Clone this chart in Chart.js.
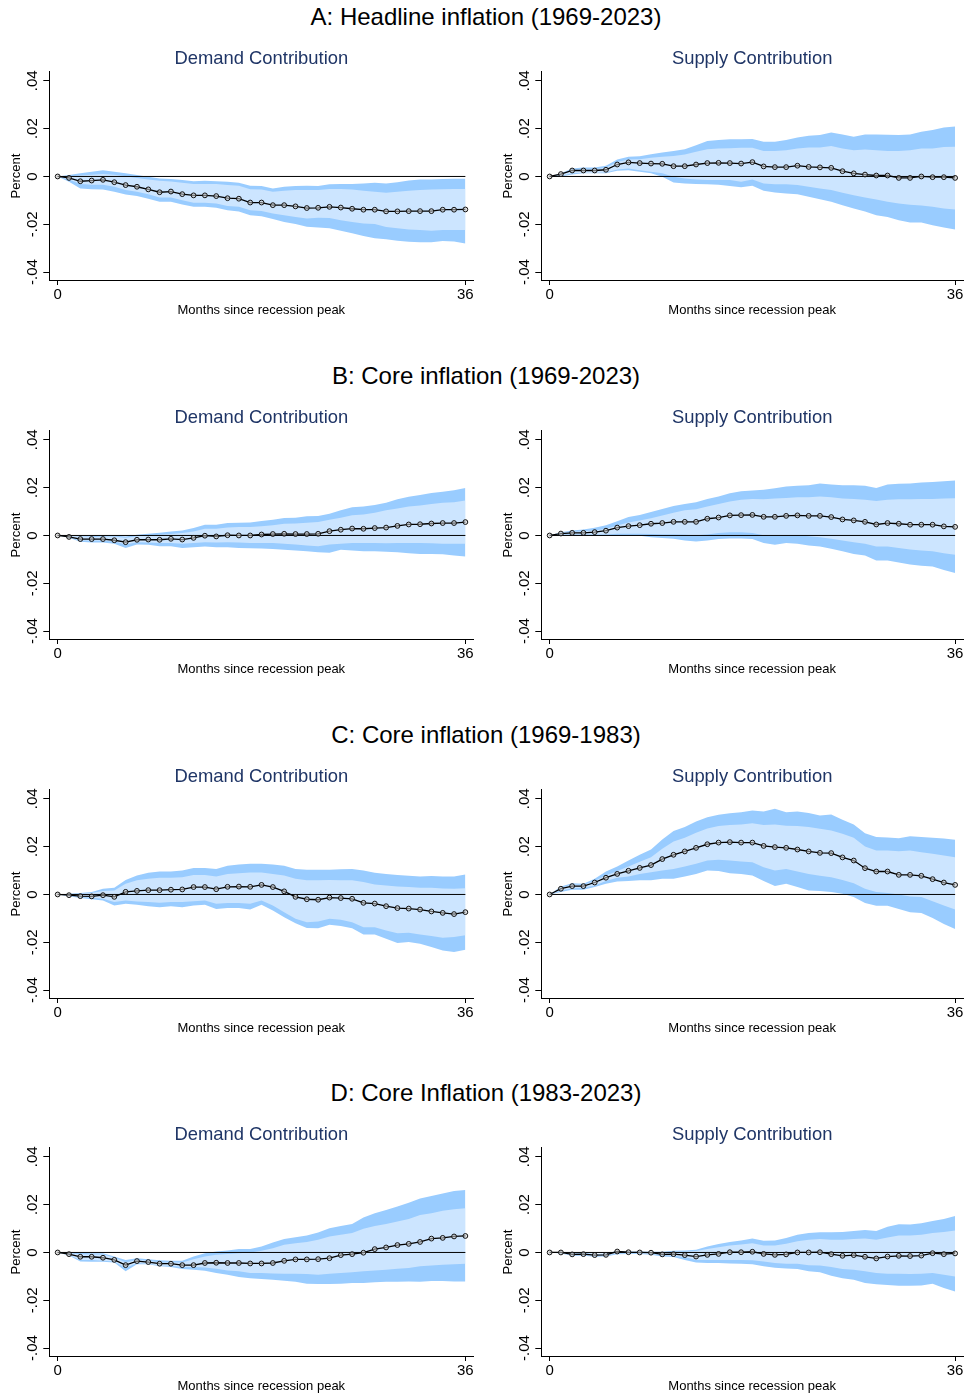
<!DOCTYPE html>
<html>
<head>
<meta charset="utf-8">
<script src="https://cdn.jsdelivr.net/npm/chart.js@4.4.1/dist/chart.umd.min.js"></script>
<style>
  html, body { margin: 0; padding: 0; background: #fff; }
  body { width: 968px; height: 1397px; position: relative; overflow: hidden;
         font-family: "Liberation Sans", Arial, sans-serif; }
  .panel-title { position: absolute; left: 2px; width: 968px; text-align: center;
                 font-size: 24px; line-height: 24px; color: #000; white-space: nowrap; }
  canvas { position: absolute; }
</style>
</head>
<body>
<script>
// Horizon (months since recession peak) and axis ticks
const months = [0,1,2,3,4,5,6,7,8,9,10,11,12,13,14,15,16,17,18,19,20,21,22,23,24,25,26,27,28,29,30,31,32,33,34,35,36];
const xTicks = [0, 36];
const yTicks = [-0.04, -0.02, 0, 0.02, 0.04];
const yTickLabels = ['-.04', '-.02', '0', '.02', '.04'];
const zeroLineX = [0, 36];

const panelTitles = [
  'A: Headline inflation (1969-2023)',
  'B: Core inflation (1969-2023)',
  'C: Core inflation (1969-1983)',
  'D: Core Inflation (1983-2023)'
];
const subTitles = ['Demand Contribution', 'Supply Contribution'];

// A: headline inflation, demand contribution
const headDemandIrf  = [0,-.0006,-.002,-.0017,-.0014,-.0024,-.0036,-.0043,-.0054,-.0066,-.0063,-.0074,-.0079,-.0079,-.0082,-.0091,-.0093,-.0109,-.0109,-.012,-.012,-.0125,-.0132,-.0131,-.0127,-.013,-.0135,-.0139,-.0139,-.0146,-.0146,-.0145,-.0145,-.0145,-.0139,-.0139,-.0138];
const headDemandHi90 = [0,.0006,.0013,.002,.0026,.002,.0013,.0006,-.0001,-.0008,-.0011,-.0015,-.002,-.0018,-.002,-.0022,-.0026,-.0039,-.004,-.005,-.0043,-.004,-.0039,-.004,-.0033,-.0032,-.0031,-.0029,-.0026,-.0029,-.0024,-.0017,-.0013,-.0013,-.0011,-.001,-.001];
const headDemandHi68 = [0,.0001,.0004,.0007,.001,.0007,.0001,-.0006,-.0013,-.0018,-.0021,-.0026,-.0032,-.0032,-.0032,-.0036,-.0039,-.0053,-.0054,-.0064,-.006,-.0057,-.0057,-.0057,-.0052,-.0052,-.0055,-.006,-.0064,-.0068,-.0064,-.006,-.0057,-.0054,-.0053,-.0052,-.0052];
const headDemandLo68 = [0,-.0013,-.0032,-.0035,-.0035,-.0043,-.0057,-.0064,-.0074,-.0088,-.0088,-.0099,-.011,-.011,-.0113,-.0123,-.0127,-.0141,-.0144,-.0155,-.0162,-.0169,-.0176,-.0173,-.0174,-.0183,-.019,-.0197,-.0199,-.0211,-.0217,-.0222,-.0224,-.0227,-.0224,-.0224,-.0224];
const headDemandLo90 = [0,-.0022,-.005,-.0053,-.0054,-.0064,-.0075,-.0082,-.0093,-.0106,-.0106,-.0117,-.0127,-.0127,-.0131,-.0141,-.0146,-.0162,-.0166,-.0178,-.019,-.0199,-.021,-.0213,-.0217,-.0227,-.0238,-.0249,-.0258,-.0263,-.0269,-.0273,-.0275,-.0275,-.027,-.0272,-.028];

// A: headline inflation, supply contribution
const headSupplyIrf  = [0,.001,.0025,.0025,.0025,.0028,.005,.0059,.0056,.0054,.0053,.0043,.0043,.005,.0056,.0057,.0056,.0054,.006,.0042,.0039,.0039,.0045,.004,.0038,.0036,.0022,.0013,.0008,.0004,.0004,-.0006,-.0006,0,-.0003,-.0003,-.0006];
const headSupplyHi90 = [0,.0013,.0033,.0038,.0038,.0045,.0071,.0082,.0085,.0093,.01,.0106,.0114,.0131,.0148,.0152,.0156,.0156,.0157,.0145,.0145,.0152,.0163,.017,.0173,.0184,.0176,.0166,.0176,.0176,.0174,.0173,.0176,.0187,.0194,.0205,.0209];
const headSupplyHi68 = [0,.0008,.0026,.0029,.0029,.0036,.0061,.0071,.0072,.0078,.0082,.0086,.0092,.0103,.0114,.0117,.0118,.012,.012,.0106,.0106,.011,.0117,.0121,.0121,.0127,.0117,.011,.0113,.011,.0107,.0106,.011,.0117,.0117,.0123,.0124];
const headSupplyLo68 = [0,.0003,.0013,.0015,.0015,.0017,.0029,.0033,.0026,.002,.0013,-.0001,-.0008,-.0013,-.0015,-.0015,-.0015,-.0022,-.0013,-.0029,-.0033,-.0033,-.0036,-.0043,-.005,-.0057,-.0068,-.0079,-.0088,-.0096,-.0106,-.0113,-.0118,-.0121,-.0127,-.0134,-.0138];
const headSupplyLo90 = [0,0,.0008,.0013,.0013,.0013,.0024,.0026,.002,.0013,-.0001,-.0025,-.0029,-.0032,-.0033,-.0035,-.004,-.0045,-.0039,-.006,-.0067,-.0071,-.0074,-.0085,-.0095,-.0106,-.012,-.0134,-.0146,-.0162,-.0169,-.0183,-.0192,-.0192,-.0204,-.0213,-.0222];

// B: core inflation 1969-2023, demand contribution
const coreDemandIrf  = [0,-.0006,-.0015,-.0015,-.0015,-.002,-.0028,-.0018,-.0017,-.0018,-.0014,-.0017,-.001,-.0001,-.0004,.0001,0,0,.0004,.0006,.0007,.0006,.0006,.0007,.0018,.0024,.0029,.0028,.0031,.0033,.004,.0046,.0047,.005,.0052,.0052,.0056];
const coreDemandHi90 = [0,0,-.0003,-.0003,0,0,-.0004,.0003,.0007,.0011,.0017,.0021,.0031,.0045,.0045,.0052,.0053,.0054,.006,.0066,.0073,.0074,.008,.0081,.0091,.0105,.0118,.0121,.0127,.0137,.0151,.0162,.0169,.0178,.0183,.0189,.0199];
const coreDemandHi68 = [0,0,-.0004,-.0007,-.0004,-.0004,-.001,-.0003,0,.0003,.0006,.001,.0017,.0028,.0028,.0033,.0035,.0035,.0039,.0043,.0049,.005,.0053,.0056,.0066,.0074,.0085,.0088,.0095,.0105,.0113,.0121,.0125,.0132,.0137,.0139,.0146];
const coreDemandLo68 = [0,-.0007,-.0021,-.0022,-.0022,-.0025,-.0038,-.0028,-.0029,-.0032,-.0032,-.0035,-.0032,-.0028,-.0029,-.0028,-.0029,-.0031,-.0031,-.0032,-.0035,-.0038,-.0042,-.0045,-.0038,-.0035,-.0032,-.0032,-.0032,-.0033,-.0032,-.0032,-.0032,-.0033,-.0035,-.0035,-.0035];
const coreDemandLo90 = [0,-.001,-.0026,-.0029,-.0029,-.0035,-.0052,-.0038,-.0039,-.0045,-.0045,-.0052,-.0049,-.0046,-.0049,-.0049,-.0052,-.0053,-.0054,-.0057,-.006,-.0063,-.0066,-.007,-.0072,-.006,-.0063,-.0066,-.0066,-.0068,-.007,-.0074,-.0077,-.0078,-.0079,-.0084,-.0088];

// B: core inflation 1969-2023, supply contribution
const coreSupplyIrf  = [0,.0008,.0011,.0011,.0014,.002,.0033,.0039,.0043,.0049,.0052,.0057,.0057,.0057,.007,.0075,.0084,.0085,.0086,.0078,.0078,.0082,.0084,.0082,.0082,.0077,.0067,.0063,.0057,.0046,.0052,.0049,.0045,.0045,.0045,.0038,.0036];
const coreSupplyHi90 = [0,.0013,.0021,.0025,.0032,.0043,.0059,.0077,.0086,.0098,.0111,.0123,.0132,.0139,.0153,.0163,.0177,.0185,.0188,.0191,.0197,.0205,.0208,.021,.0217,.0213,.021,.021,.0208,.0199,.0213,.0216,.0217,.0222,.0224,.0227,.023];
const coreSupplyHi68 = [0,.001,.0015,.0018,.0021,.0028,.0042,.0054,.0063,.0072,.0084,.0095,.0105,.011,.0121,.0132,.0142,.0149,.0152,.0151,.0155,.0157,.016,.016,.0163,.016,.0155,.0152,.0149,.0144,.0149,.0151,.0151,.0153,.0153,.0155,.0156];
const coreSupplyLo68 = [0,.0004,.0004,.0004,.0004,.0004,.0007,.0007,.0007,.0006,.0004,.0004,.0003,.0001,.0004,.001,.0013,.0013,.001,.0001,-.0001,.0001,.0001,-.0003,-.0007,-.0014,-.0021,-.0028,-.0035,-.0046,-.0046,-.0052,-.0059,-.0063,-.0066,-.0074,-.0081];
const coreSupplyLo90 = [0,.0001,0,0,-.0001,0,0,0,-.0001,-.0007,-.0011,-.0014,-.0021,-.0025,-.0021,-.0015,-.0013,-.0013,-.0015,-.0032,-.0039,-.0032,-.0035,-.0042,-.0046,-.0056,-.0066,-.0077,-.0084,-.0105,-.0105,-.0113,-.0121,-.0127,-.013,-.0144,-.0157];

// C: core inflation 1969-1983, demand contribution
const earlyDemandIrf  = [0,-.0003,-.0007,-.0008,-.0003,-.001,.0011,.0015,.0018,.0018,.002,.0021,.0031,.0031,.0022,.0032,.0033,.0032,.004,.0031,.0013,-.001,-.002,-.0022,-.0013,-.0015,-.0018,-.0035,-.0038,-.0049,-.0057,-.0059,-.0063,-.0071,-.0077,-.0082,-.0074];
const earlyDemandHi90 = [0,.0003,.0006,.001,.0024,.0028,.0061,.0079,.0091,.0096,.0096,.01,.0111,.0111,.0107,.012,.0125,.0128,.0128,.0125,.012,.0107,.0103,.0103,.0103,.0105,.0107,.01,.0091,.0086,.0081,.0078,.0075,.0077,.0075,.0075,.0084];
const earlyDemandHi68 = [0,.0001,.0003,.0006,.0014,.0017,.0045,.0059,.0066,.007,.007,.0072,.0081,.0081,.0075,.0086,.0089,.0092,.0092,.0086,.0079,.0066,.0059,.0059,.0061,.0059,.0059,.0052,.0042,.0038,.0033,.0031,.0028,.0028,.0025,.0024,.0026];
const earlyDemandLo68 = [0,-.0004,-.0011,-.0014,-.0018,-.0032,-.0025,-.0029,-.0032,-.0035,-.0032,-.0032,-.0028,-.0025,-.0039,-.0036,-.0036,-.0039,-.0025,-.0046,-.0074,-.0102,-.0116,-.0113,-.0102,-.0106,-.0116,-.0137,-.0137,-.0151,-.0162,-.016,-.0167,-.0174,-.0181,-.0178,-.0171];
const earlyDemandLo90 = [0,-.0007,-.0015,-.002,-.0025,-.0046,-.0039,-.0043,-.0049,-.0053,-.0049,-.0053,-.0046,-.0043,-.0061,-.0057,-.0057,-.0063,-.0043,-.0067,-.0095,-.012,-.014,-.0141,-.0127,-.0132,-.0141,-.0167,-.0167,-.0185,-.0203,-.0199,-.0206,-.022,-.0234,-.0241,-.0231];

// C: core inflation 1969-1983, supply contribution
const earlySupplyIrf  = [0,.0024,.0035,.0035,.005,.007,.0086,.0099,.0111,.0123,.0148,.0166,.018,.0195,.021,.0217,.0219,.0217,.0217,.0203,.0198,.0195,.0188,.018,.0174,.0173,.0155,.0142,.011,.0096,.0096,.0082,.0082,.0078,.0064,.005,.004];
const earlySupplyHi90 = [0,.0033,.0047,.0045,.0066,.0096,.0117,.0142,.0166,.0188,.023,.0265,.0282,.0305,.0323,.0333,.034,.0344,.0351,.0347,.0358,.0344,.0347,.0341,.033,.0334,.0312,.0293,.0256,.024,.0238,.0235,.0243,.024,.0237,.0234,.0229];
const earlySupplyHi68 = [0,.0028,.0042,.004,.0056,.0079,.0098,.0117,.0137,.0156,.0191,.0222,.0237,.0258,.0276,.0286,.0291,.0293,.0298,.0291,.0293,.0287,.0286,.0282,.0275,.0268,.0254,.0237,.0201,.0184,.0184,.0181,.0184,.0177,.017,.0163,.0156];
const earlySupplyLo68 = [0,.0017,.0026,.0028,.0038,.0056,.007,.0075,.0086,.0093,.01,.0107,.0117,.0128,.0142,.0145,.0142,.0138,.0135,.0114,.01,.0107,.0096,.0086,.0078,.0072,.0061,.0047,.0024,.001,.0006,0,-.0008,-.0011,-.0028,-.0046,-.0063];
const earlySupplyLo90 = [0,.001,.002,.002,.0031,.0045,.0054,.0056,.0059,.0059,.0066,.0066,.0075,.0086,.01,.0098,.0089,.0086,.0079,.0056,.0035,.0045,.0031,.0017,.0014,.001,.0003,-.0011,-.0036,-.0047,-.0047,-.0061,-.0074,-.0078,-.0098,-.0123,-.0144];

// D: core inflation 1983-2023, demand contribution
const lateDemandIrf  = [0,-.0007,-.0018,-.0018,-.0022,-.0031,-.0053,-.0036,-.004,-.0047,-.0047,-.0053,-.0053,-.0044,-.0043,-.0044,-.0044,-.0046,-.0046,-.0044,-.0035,-.0029,-.0029,-.0028,-.0024,-.0011,-.0007,-.0001,.0014,.0021,.0031,.0036,.0044,.0058,.0061,.0067,.0069];
const lateDemandHi90 = [0,0,-.0001,-.0003,-.0003,-.0017,-.0031,-.0024,-.0028,-.0033,-.0035,-.0035,-.0017,-.0003,.0004,.0008,.0014,.0015,.0025,.0042,.0056,.0064,.0071,.0083,.0101,.0111,.0119,.0146,.0164,.0178,.0192,.0208,.0226,.0236,.0247,.0257,.0261];
const lateDemandHi68 = [0,-.0003,-.0007,-.0008,-.0008,-.0021,-.0042,-.0031,-.0035,-.0042,-.0042,-.0042,-.0028,-.0017,-.001,-.0006,-.0003,0,.0007,.0018,.0032,.0039,.0044,.0053,.0067,.0074,.0081,.0099,.0111,.0119,.0129,.014,.0157,.0164,.0174,.0181,.0185];
const lateDemandLo68 = [0,-.0011,-.0031,-.0031,-.0035,-.0038,-.0065,-.0044,-.0047,-.0054,-.0056,-.0061,-.0061,-.0063,-.0068,-.0075,-.0079,-.0086,-.0086,-.0088,-.0089,-.0089,-.009,-.0093,-.0089,-.0086,-.0083,-.0079,-.0075,-.0072,-.0068,-.0065,-.0058,-.0054,-.0051,-.0049,-.0047];
const lateDemandLo90 = [0,-.0013,-.0038,-.0039,-.0039,-.0042,-.0079,-.0049,-.0049,-.0058,-.0061,-.0069,-.0072,-.0076,-.0086,-.0093,-.0103,-.0108,-.0111,-.0114,-.0118,-.0122,-.0131,-.0132,-.0132,-.0131,-.0128,-.0128,-.0125,-.0122,-.0122,-.0121,-.0122,-.0119,-.0119,-.0121,-.0121];

// D: core inflation 1983-2023, supply contribution
const lateSupplyIrf  = [0,0,-.0008,-.0007,-.0011,-.001,.0004,.0001,0,-.0001,-.0008,-.0007,-.0011,-.0017,-.001,-.0006,.0001,.0001,.0003,-.0006,-.001,-.0008,0,0,.0001,-.0007,-.0014,-.0011,-.0018,-.0025,-.0017,-.0014,-.0015,-.0013,-.0003,-.0007,-.0004];
const lateSupplyHi90 = [0,.0003,-.0003,-.0001,-.0006,-.0004,.0007,.0004,.0004,.0003,.0003,.0007,.0008,.0011,.0025,.0035,.0044,.005,.0058,.0049,.005,.006,.0074,.0081,.0085,.0085,.0086,.009,.0094,.009,.0108,.0118,.0117,.0122,.0132,.014,.0153];
const lateSupplyHi68 = [0,.0001,-.0004,-.0004,-.0008,-.0008,.0003,.0001,.0001,0,0,.0003,.0003,.0006,.0015,.0022,.0029,.0033,.0039,.0029,.0029,.0036,.0047,.0053,.0056,.0053,.0053,.0056,.0058,.0053,.0063,.0071,.0071,.0074,.0081,.0086,.0092];
const lateSupplyLo68 = [0,-.0003,-.0011,-.0011,-.0015,-.0014,-.0003,-.0003,-.0003,-.0006,-.0011,-.0014,-.0019,-.0031,-.0031,-.0031,-.0031,-.0032,-.0033,-.0038,-.0044,-.0047,-.0047,-.0053,-.0054,-.0061,-.0069,-.0072,-.0079,-.0086,-.0089,-.0089,-.009,-.0089,-.0086,-.0093,-.01];
const lateSupplyLo90 = [0,-.0004,-.0014,-.0014,-.0018,-.0017,-.0007,-.0006,-.0006,-.001,-.0017,-.0019,-.0031,-.0042,-.0044,-.0044,-.0046,-.0047,-.0049,-.0058,-.0064,-.0067,-.0069,-.0079,-.0083,-.0097,-.0108,-.0114,-.0128,-.0133,-.0136,-.0139,-.0139,-.0138,-.0131,-.0149,-.0163];

// Panels in reading order: [demand, supply] for each sample
const panelSeries = [
  [ {irf: headDemandIrf, hi90: headDemandHi90, hi68: headDemandHi68, lo68: headDemandLo68, lo90: headDemandLo90},
    {irf: headSupplyIrf, hi90: headSupplyHi90, hi68: headSupplyHi68, lo68: headSupplyLo68, lo90: headSupplyLo90} ],
  [ {irf: coreDemandIrf, hi90: coreDemandHi90, hi68: coreDemandHi68, lo68: coreDemandLo68, lo90: coreDemandLo90},
    {irf: coreSupplyIrf, hi90: coreSupplyHi90, hi68: coreSupplyHi68, lo68: coreSupplyLo68, lo90: coreSupplyLo90} ],
  [ {irf: earlyDemandIrf, hi90: earlyDemandHi90, hi68: earlyDemandHi68, lo68: earlyDemandLo68, lo90: earlyDemandLo90},
    {irf: earlySupplyIrf, hi90: earlySupplyHi90, hi68: earlySupplyHi68, lo68: earlySupplyLo68, lo90: earlySupplyLo90} ],
  [ {irf: lateDemandIrf, hi90: lateDemandHi90, hi68: lateDemandHi68, lo68: lateDemandLo68, lo90: lateDemandLo90},
    {irf: lateSupplyIrf, hi90: lateSupplyHi90, hi68: lateSupplyHi68, lo68: lateSupplyLo68, lo90: lateSupplyLo90} ]
];

// Styling
const FONT = '"Liberation Sans", Arial, Helvetica, sans-serif';
const BAND90 = 'rgb(153,204,255)';
const BAND68 = 'rgb(204,229,255)';
const SUBTITLE_COLOR = '#1f3566';
const PANEL_STEP = 358.8;

const pts = arr => months.map((m, i) => ({ x: m, y: arr[i] }));

function buildChart(canvas, subtitle, s, padRight) {
  const bandLine = { pointRadius: 0, borderWidth: 0, tension: 0 };
  return new Chart(canvas, {
    type: 'line',
    data: {
      datasets: [
        { ...bandLine, data: pts(s.lo90), fill: false, order: 5 },
        { ...bandLine, data: pts(s.hi90), fill: '-1', backgroundColor: BAND90, order: 4 },
        { ...bandLine, data: pts(s.lo68), fill: false, order: 5 },
        { ...bandLine, data: pts(s.hi68), fill: '-1', backgroundColor: BAND68, order: 3 },
        { data: zeroLineX.map(x => ({ x: x, y: 0 })), borderColor: '#000', borderWidth: 1,
          pointRadius: 0, fill: false, order: 2 },
        { data: pts(s.irf), borderColor: '#000', borderWidth: 1.3, tension: 0, fill: false,
          pointRadius: 2.4, pointBorderWidth: 1, pointBorderColor: '#111',
          pointBackgroundColor: 'rgba(200,200,200,0.55)', order: 1 }
      ]
    },
    options: {
      responsive: false,
      animation: false,
      events: [],
      layout: { padding: { left: 0, right: padRight, top: 0, bottom: 0 } },
      plugins: {
        legend: { display: false },
        tooltip: { enabled: false },
        title: {
          display: true, text: subtitle, color: SUBTITLE_COLOR, fullSize: false,
          font: { family: FONT, size: 18.4, weight: 'normal', lineHeight: 1.2 },
          padding: { top: 7.8, bottom: 2.1 }
        }
      },
      scales: {
        x: {
          type: 'linear', min: -0.74, max: 36.7,
          afterBuildTicks: sc => { sc.ticks = xTicks.map(v => ({ value: v })); },
          afterFit: sc => { sc.height = 40; },
          ticks: { color: '#000', font: { family: FONT, size: 15 }, padding: 1,
                   maxRotation: 0, autoSkip: false, callback: v => String(v) },
          grid: { drawOnChartArea: false, drawTicks: true, tickLength: 5, color: '#000', lineWidth: 1 },
          border: { display: true, color: '#000', width: 1 },
          title: { display: true, text: 'Months since recession peak', color: '#000',
                   font: { family: FONT, size: 13, lineHeight: 1.2 }, padding: { top: 0, bottom: 2.2 } }
        },
        y: {
          type: 'linear', min: -0.0433, max: 0.0437,
          afterBuildTicks: sc => { sc.ticks = yTicks.map(v => ({ value: v })); },
          afterFit: sc => { sc.width = 49.3; },
          ticks: { color: '#000', font: { family: FONT, size: 15 }, padding: -2.6,
                   minRotation: 90, maxRotation: 90, crossAlign: 'center',
                   callback: v => yTickLabels[yTicks.indexOf(v)] },
          grid: { drawOnChartArea: false, drawTicks: true, tickLength: 6, color: '#000', lineWidth: 1 },
          border: { display: true, color: '#000', width: 1 },
          title: { display: true, text: 'Percent', color: '#000',
                   font: { family: FONT, size: 13, lineHeight: 1.2 }, padding: { top: 8.2, bottom: 0 } }
        }
      }
    }
  });
}

panelTitles.forEach((t, p) => {
  const top = 40 + p * PANEL_STEP;
  const head = document.createElement('div');
  head.className = 'panel-title';
  head.style.top = (5 + p * PANEL_STEP) + 'px';
  head.textContent = t;
  document.body.appendChild(head);

  [0, 1].forEach(side => {
    const c = document.createElement('canvas');
    const w = side === 0 ? 484 : 476;
    c.width = w; c.height = 280;
    c.style.left = (side === 0 ? 0 : 492) + 'px';
    c.style.top = top + 'px';
    c.style.width = w + 'px'; c.style.height = '280px';
    document.body.appendChild(c);
    buildChart(c, subTitles[side], panelSeries[p][side], side === 0 ? 10.7 : 2.7);
  });
});
</script>
</body>
</html>
